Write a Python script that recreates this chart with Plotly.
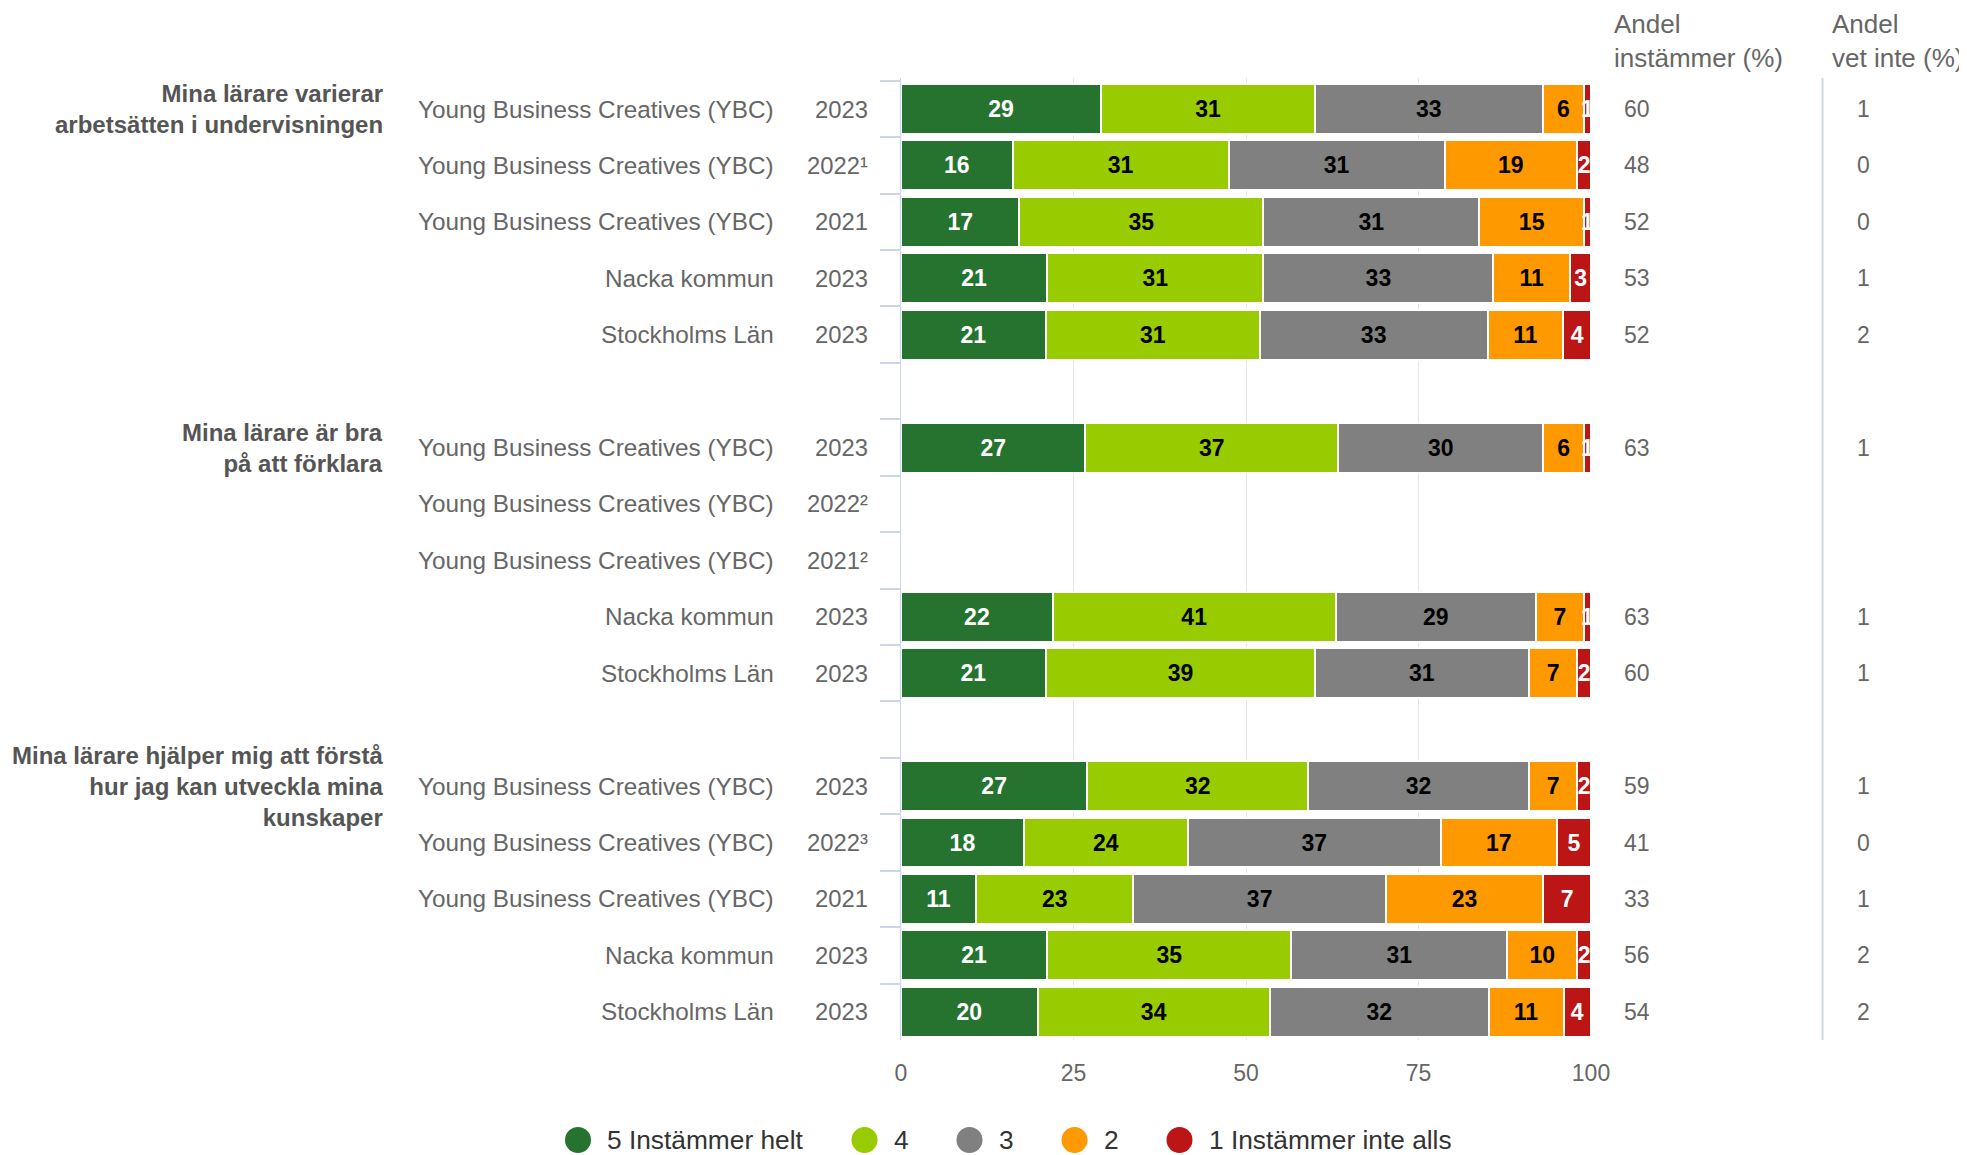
import plotly.graph_objects as go

FONT = "Liberation Sans, Arial, Helvetica, sans-serif"

# ---------------- data ----------------
groups = [
    "Mina lärare varierar<br>arbetsätten i undervisningen",
    "Mina lärare är bra<br>på att förklara",
    "Mina lärare hjälper mig att förstå<br>hur jag kan utveckla mina<br>kunskaper",
]
names = ["Young Business Creatives (YBC)", "Young Business Creatives (YBC)",
         "Young Business Creatives (YBC)", "Nacka kommun", "Stockholms Län"]
years = [
    ["2023", "2022¹", "2021", "2023", "2023"],
    ["2023", "2022²", "2021²", "2023", "2023"],
    ["2023", "2022³", "2021", "2023", "2023"],
]

series_names = ["5 Instämmer helt", "4", "3", "2", "1 Instämmer inte alls"]
s5 = [29, 16, 17, 21, 21, 27, None, None, 22, 21, 27, 18, 11, 21, 20]
s4 = [31, 31, 35, 31, 31, 37, None, None, 41, 39, 32, 24, 23, 35, 34]
s3 = [33, 31, 31, 33, 33, 30, None, None, 29, 31, 32, 37, 37, 31, 32]
s2 = [6, 19, 15, 11, 11, 6, None, None, 7, 7, 7, 17, 23, 10, 11]
s1 = [1, 2, 1, 3, 4, 1, None, None, 1, 2, 2, 5, 7, 2, 4]
andel_instammer = [60, 48, 52, 53, 52, 63, None, None, 63, 60, 59, 41, 33, 56, 54]
andel_vet_inte = [1, 0, 0, 1, 2, 1, None, None, 1, 1, 1, 0, 1, 2, 2]

x_ticks = [0, 25, 50, 75, 100]

# ---------------- styles ----------------
colors = ["#267330", "#99cc00", "#808080", "#ff9900", "#bb1515"]
label_colors = ["#ffffff", "#000000", "#000000", "#000000", "#ffffff"]

# The page body has an 8px margin: work in screen pixels and convert.
OFF = 8
W, H = 1967 - OFF, 1155 - OFF
# plot area in screen pixels
SL, SR, ST, SB = 901, 1591, 78, 1040
L, T = SL - OFF, ST - OFF
R = W - (SR - OFF)
B = H - (SB - OFF)
PW = SR - SL
PH = SB - ST


def px_x(X):
    return (X - SL) / PW


def px_y(Y):
    return (SB - Y) / PH


# row keys (with separator rows between groups)
row_keys = []
cat_array = []
for g in range(len(groups)):
    for r in range(len(names)):
        k = f"g{g}r{r}"
        row_keys.append(k)
        cat_array.append(k)
    if g < len(groups) - 1:
        cat_array.append(f"sep{g}")

fig = go.Figure()
for sname, vals, col, tcol in zip(series_names, [s5, s4, s3, s2, s1], colors, label_colors):
    fig.add_trace(go.Bar(
        y=row_keys, x=vals, orientation="h", name=sname,
        marker=dict(color=col, line=dict(color="white", width=2)),
        text=["" if v is None else str(v) for v in vals],
        textposition="inside", insidetextanchor="middle", textangle=0,
        constraintext="none",
        textfont=dict(family=FONT, size=23, color=tcol, weight="bold"),
        showlegend=False, hoverinfo="skip",
    ))

annotations = []
# row labels
for g in range(len(groups)):
    for r in range(len(names)):
        k = f"g{g}r{r}"
        annotations.append(dict(x=px_x(775.5), xref="paper", y=k, yref="y", text=names[r],
                                xanchor="right", yanchor="middle", showarrow=False,
                                font=dict(family=FONT, size=24.3, color="#666666")))
        annotations.append(dict(x=px_x(869.5), xref="paper", y=k, yref="y", text=years[g][r],
                                xanchor="right", yanchor="middle", showarrow=False,
                                font=dict(family=FONT, size=23.8, color="#666666")))
    annotations.append(dict(x=px_x(384.5), xref="paper", y=f"g{g}r0", yref="y", text=groups[g],
                            xanchor="right", yanchor="middle", align="right", showarrow=False,
                            font=dict(family=FONT, size=24, color="#555555", weight="bold")))

# right-hand value columns
for k, a, v in zip(row_keys, andel_instammer, andel_vet_inte):
    if a is not None:
        annotations.append(dict(x=px_x(1637), xref="paper", y=k, yref="y", text=str(a),
                                xanchor="center", yanchor="middle", showarrow=False,
                                font=dict(family=FONT, size=23, color="#666666")))
    if v is not None:
        annotations.append(dict(x=px_x(1863), xref="paper", y=k, yref="y", text=str(v),
                                xanchor="center", yanchor="middle", showarrow=False,
                                font=dict(family=FONT, size=23, color="#666666")))

annotations.append(dict(x=px_x(1612), xref="paper", y=px_y(41), yref="paper",
                        text="Andel<br>instämmer (%)", xanchor="left", yanchor="middle",
                        align="left", showarrow=False,
                        font=dict(family=FONT, size=26, color="#666666")))
annotations.append(dict(x=px_x(1830), xref="paper", y=px_y(41), yref="paper",
                        text="Andel<br>vet inte (%)", xanchor="left", yanchor="middle",
                        align="left", showarrow=False,
                        font=dict(family=FONT, size=26, color="#666666")))

shapes = [dict(type="line", xref="paper", yref="paper", x0=px_x(1822.5), x1=px_x(1822.5),
               y0=0, y1=1, line=dict(color="#ccd6eb", width=2))]

# custom legend (circle symbols)
legend_cx = [578, 864.5, 969.5, 1074.5, 1179.5]
legend_y = px_y(1140)
for sname, col, cx in zip(series_names, colors, legend_cx):
    shapes.append(dict(type="circle", xref="paper", yref="paper",
                       xsizemode="pixel", ysizemode="pixel",
                       xanchor=px_x(cx), yanchor=legend_y,
                       x0=-13, x1=13, y0=-13, y1=13,
                       fillcolor=col, line=dict(width=0)))
    annotations.append(dict(x=px_x(cx + 27), xref="paper", y=legend_y, yref="paper",
                            text=sname, xanchor="left", yanchor="middle", showarrow=False,
                            font=dict(family=FONT, size=26.3, color="#333333")))

fig.update_layout(
    width=W, height=H,
    margin=dict(l=L, r=R, t=T, b=B, pad=0),
    barmode="stack", barnorm="percent", bargap=0.115,
    plot_bgcolor="white", paper_bgcolor="white",
    showlegend=False,
    font=dict(family=FONT, color="#666666"),
    annotations=annotations, shapes=shapes,
    xaxis=dict(range=[0, 100], tickvals=x_ticks, ticktext=[str(t) for t in x_ticks],
               showgrid=True, gridcolor="#e6e6e6", gridwidth=1, zeroline=False,
               showline=False, ticks="outside", ticklen=12, tickcolor="rgba(0,0,0,0)",
               tickfont=dict(family=FONT, size=23, color="#666666")),
    yaxis=dict(type="category", categoryorder="array", categoryarray=cat_array,
               autorange="reversed", tickson="boundaries", ticks="outside",
               ticklen=20, tickwidth=2, tickcolor="#ccd6eb", showticklabels=False,
               showgrid=False, zeroline=False, showline=True, linecolor="#ccd6eb",
               linewidth=1),
)

fig.write_html("out.html")
